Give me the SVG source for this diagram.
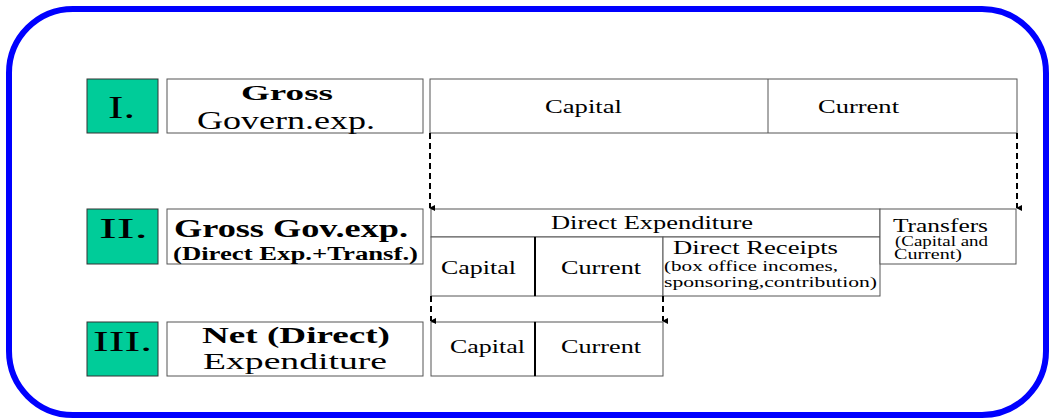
<svg xmlns="http://www.w3.org/2000/svg" width="1049" height="418" viewBox="0 0 1049 418">
<style>
.frame{fill:none;stroke:#0000FF;stroke-width:6}
.num{fill:#00CC99;stroke:#333;stroke-width:1}
.box{fill:#fff;stroke:#555;stroke-width:1}
.div{stroke:#000;stroke-width:2}
.thin{stroke:#555;stroke-width:1}
.t{font-family:"Liberation Serif","Times New Roman",serif;fill:#000}
.b{font-weight:bold}
.dash{fill:none;stroke:#000;stroke-width:2;stroke-dasharray:6 4}
</style>
<defs>
<marker id="ah" markerWidth="6" markerHeight="6" refX="3" refY="5" orient="auto" markerUnits="userSpaceOnUse" viewBox="0 0 6 6">
<path d="M0,0 L6,0 L3,6 Z" fill="#000"/>
</marker>
</defs>
<rect class="frame" x="9" y="9" width="1037" height="406" rx="64" ry="64"/>

<g id="row1-num"><rect class="num" x="87" y="79" width="71" height="54"/><text class="t" x="108" y="118" font-size="32" textLength="27" lengthAdjust="spacingAndGlyphs">I.</text></g>
<g id="row1-label"><rect class="box" x="167" y="79" width="256" height="54"/>
<text class="t b" x="241" y="100" font-size="22" textLength="92" lengthAdjust="spacingAndGlyphs">Gross</text>
<text class="t" x="197" y="129" font-size="26" textLength="178" lengthAdjust="spacingAndGlyphs">Govern.exp.</text></g>
<g id="row1-table"><rect class="box" x="430" y="79" width="587" height="54"/><line class="thin" x1="768" y1="79" x2="768" y2="133"/>
<text class="t" x="545" y="113" font-size="18" textLength="77" lengthAdjust="spacingAndGlyphs">Capital</text>
<text class="t" x="818" y="113" font-size="18" textLength="81" lengthAdjust="spacingAndGlyphs">Current</text></g>

<g id="row2-num"><rect class="num" x="87" y="209" width="71" height="55"/><text class="t" x="99" y="238" font-size="30" textLength="49" lengthAdjust="spacingAndGlyphs">II.</text></g>
<g id="row2-label"><rect class="box" x="167" y="209" width="256" height="55"/>
<text class="t b" x="174" y="237" font-size="26" textLength="234" lengthAdjust="spacingAndGlyphs">Gross Gov.exp.</text>
<text class="t b" x="173" y="260" font-size="18" textLength="245" lengthAdjust="spacingAndGlyphs">(Direct Exp.+Transf.)</text></g>
<g id="row2-direct"><rect class="box" x="431" y="209" width="449" height="28"/>
<text class="t" x="551" y="229" font-size="18" textLength="202" lengthAdjust="spacingAndGlyphs">Direct Expenditure</text></g>
<g id="row2-capital"><rect class="box" x="431" y="237" width="104" height="59"/>
<text class="t" x="441" y="274" font-size="18" textLength="75" lengthAdjust="spacingAndGlyphs">Capital</text></g>
<g id="row2-current"><rect class="box" x="535" y="237" width="128" height="59"/>
<text class="t" x="561" y="274" font-size="18" textLength="80" lengthAdjust="spacingAndGlyphs">Current</text></g>
<g id="row2-receipts"><rect class="box" x="663" y="237" width="217" height="59"/>
<text class="t" x="673" y="254" font-size="18" textLength="165" lengthAdjust="spacingAndGlyphs">Direct Receipts</text>
<text class="t" x="664" y="271" font-size="14" textLength="174" lengthAdjust="spacingAndGlyphs">(box office incomes,</text>
<text class="t" x="664" y="287" font-size="14" textLength="213" lengthAdjust="spacingAndGlyphs">sponsoring,contribution)</text></g>
<g id="row2-transfers"><rect class="box" x="880" y="209" width="136" height="55"/>
<text class="t" x="893" y="232" font-size="18" textLength="95" lengthAdjust="spacingAndGlyphs">Transfers</text>
<text class="t" x="895" y="246" font-size="14" textLength="93" lengthAdjust="spacingAndGlyphs">(Capital and</text>
<text class="t" x="894" y="259" font-size="14" textLength="68" lengthAdjust="spacingAndGlyphs">Current)</text></g>
<line class="div" x1="535" y1="237" x2="535" y2="296"/>

<g id="row3-num"><rect class="num" x="87" y="322" width="71" height="54"/><text class="t" x="93" y="351" font-size="30" textLength="59" lengthAdjust="spacingAndGlyphs">III.</text></g>
<g id="row3-label"><rect class="box" x="167" y="322" width="256" height="54"/>
<text class="t b" x="202" y="343" font-size="23" textLength="188" lengthAdjust="spacingAndGlyphs">Net (Direct)</text>
<text class="t" x="203" y="369" font-size="23" textLength="184" lengthAdjust="spacingAndGlyphs">Expenditure</text></g>
<g id="row3-capital"><rect class="box" x="431" y="322" width="104" height="54"/>
<text class="t" x="450" y="353" font-size="18" textLength="75" lengthAdjust="spacingAndGlyphs">Capital</text></g>
<g id="row3-current"><rect class="box" x="535" y="322" width="128" height="54"/>
<text class="t" x="561" y="353" font-size="18" textLength="80" lengthAdjust="spacingAndGlyphs">Current</text></g>
<line class="div" x1="535" y1="322" x2="535" y2="376"/>

<g id="connectors">
<line class="dash" x1="430" y1="133" x2="430" y2="208" marker-end="url(#ah)"/>
<line class="dash" x1="1017" y1="133" x2="1017" y2="208" marker-end="url(#ah)"/>
<line class="dash" x1="431" y1="296" x2="431" y2="321" marker-end="url(#ah)"/>
<line class="dash" x1="663" y1="296" x2="663" y2="321" marker-end="url(#ah)"/>
</g>
</svg>
